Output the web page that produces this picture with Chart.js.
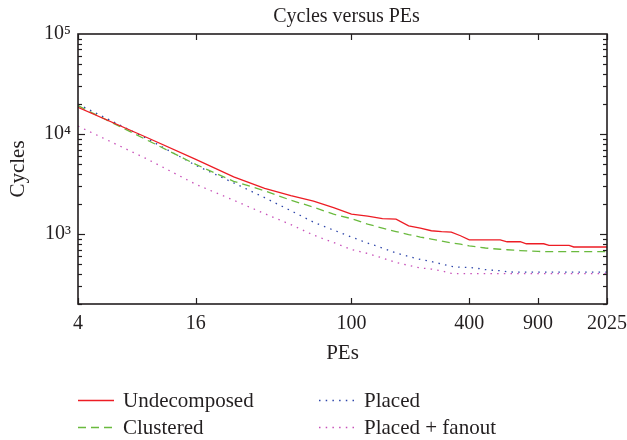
<!DOCTYPE html>
<html>
<head>
<meta charset="utf-8">
<title>Cycles versus PEs</title>
<script src="https://cdn.jsdelivr.net/npm/chart.js@4.4.1/dist/chart.umd.min.js"></script>
<style>
	html, body { margin: 0; padding: 0; background: #fff; }
	#wrap { width: 627px; height: 440px; }
</style>
</head>
<body>
<div id="wrap"><canvas id="cyclesChart" width="627" height="440"></canvas></div>
<script>
// data (log-log, PEs are square grids 2x2 .. 45x45)
const pes = [4, 9, 16, 25, 36, 49, 64, 81, 100, 121, 144, 169, 196, 225, 256, 289, 324, 361, 400, 441,
	484, 529, 576, 625, 676, 729, 784, 841, 900, 961, 1024, 1089, 1156, 1225, 1296, 1369, 1444, 1521,
	1600, 1681, 1764, 1849, 1936, 2025];

const undecomposed = [18500, 9230, 5570, 3730, 2870, 2420, 2130, 1835, 1580, 1510, 1425, 1410, 1210, 1148,
	1080, 1060, 1047, 962, 877, 877, 877, 877, 877, 838, 838, 838, 800, 800, 800, 800, 772, 772, 772, 772,
	772, 743, 743, 743, 743, 743, 743, 743, 743, 743];

const clustered = [19200, 8720, 4970, 3370, 2710, 2180, 1857, 1580, 1426, 1258, 1148, 1059, 989, 934, 891,
	851, 817, 792, 763, 743, 726, 714, 705, 697, 690, 684, 679, 674, 671, 667, 667, 667, 667, 667, 667, 667,
	667, 667, 667, 667, 667, 667, 667, 667];

const placed = [19900, 9020, 4860, 3250, 2310, 1714, 1316, 1096, 934, 813, 726, 647, 597, 557, 532, 502, 475,
	466, 464, 454, 441, 435, 431, 421, 416, 416, 416, 416, 416, 416, 416, 416, 416, 416, 416, 416, 416, 416,
	416, 416, 416, 416, 416, 416];

const placedFanout = [12000, 5640, 3145, 2180, 1600, 1244, 977, 823, 701, 640, 577, 520, 486, 459, 447, 429,
	405, 402, 402, 402, 402, 402, 402, 402, 402, 402, 402, 402, 402, 402, 402, 402, 402, 402, 402, 402, 402,
	402, 402, 402, 402, 402, 402, 402];

const xTickValues = [4, 16, 100, 400, 900, 2025];
const yTickValues = [1000, 10000, 100000];

const TITLE = 'Cycles versus PEs';
const FONT = '"Liberation Serif", "Times New Roman", serif';
const INK = '#231f20';
const SUP = { 2: '\u00b2', 3: '\u00b3', 4: '\u2074', 5: '\u2075' };

const series = [
	{ label: 'Undecomposed', data: undecomposed, color: 'rgb(237,28,36)', dash: [] },
	{ label: 'Clustered', data: clustered, color: 'rgb(106,186,62)', dash: [8, 5] },
	{ label: 'Placed', data: placed, color: 'rgb(46,70,170)', dash: [1.5, 5.2] },
	{ label: 'Placed + fanout', data: placedFanout, color: 'rgb(200,80,185)', dash: [1.5, 5.2] }
];

// frame around the plot plus inward tick marks (major + log minor on y), title over the plot area
const frameTicks = {
	id: 'frameTicks',
	afterDatasetsDraw(chart) {
		const { ctx, chartArea: a, scales: { x, y } } = chart;
		ctx.save();
		ctx.strokeStyle = INK;
		ctx.lineWidth = 1.2;
		const seg = (x1, y1, x2, y2) => { ctx.beginPath(); ctx.moveTo(x1, y1); ctx.lineTo(x2, y2); ctx.stroke(); };

		xTickValues.forEach(v => {
			const px = Math.round(x.getPixelForValue(v)) + 0.5;
			seg(px, a.bottom, px, a.bottom - 6);
			seg(px, a.top, px, a.top + 6);
		});

		for (let dec = 100; dec < 100000; dec *= 10) {
			for (let m = 1; m < 10; m++) {
				const v = dec * m;
				if (v < y.min || v > y.max) continue;
				const py = Math.round(y.getPixelForValue(v)) + 0.5;
				const len = m === 1 ? 7 : 4;
				seg(a.left, py, a.left + len, py);
				seg(a.right, py, a.right - len, py);
			}
		}

		ctx.lineWidth = 1.6;
		ctx.strokeRect(a.left, a.top, a.right - a.left, a.bottom - a.top);

		ctx.fillStyle = INK;
		ctx.font = '20px ' + FONT;
		ctx.textAlign = 'center';
		ctx.textBaseline = 'middle';
		ctx.fillText(TITLE, (a.left + a.right) / 2 + 4, 17);
		ctx.restore();
	}
};

// two-column legend under the x axis title (column-major order like the original)
const bottomLegend = {
	id: 'bottomLegend',
	afterDraw(chart) {
		const { ctx } = chart;
		const colX = [78, 319];
		const rowY = [400.5, 427.5];
		ctx.save();
		chart.data.datasets.forEach((ds, i) => {
			const lx = colX[Math.floor(i / 2)];
			const ly = rowY[i % 2];
			ctx.strokeStyle = ds.borderColor;
			ctx.lineWidth = 1.4;
			ctx.setLineDash(ds.borderDash || []);
			ctx.beginPath();
			ctx.moveTo(lx, ly);
			ctx.lineTo(lx + 36, ly);
			ctx.stroke();
			ctx.setLineDash([]);
			ctx.fillStyle = INK;
			ctx.font = '21px ' + FONT;
			ctx.textBaseline = 'middle';
			ctx.textAlign = 'left';
			ctx.fillText(ds.label, lx + 45, ly + 1);
		});
		ctx.restore();
	}
};

const ctx = document.getElementById('cyclesChart').getContext('2d');

new Chart(ctx, {
	type: 'line',
	data: {
		labels: pes,
		datasets: series.map(s => ({
			label: s.label,
			data: pes.map((p, i) => ({ x: p, y: s.data[i] })),
			borderColor: s.color,
			backgroundColor: s.color,
			borderDash: s.dash,
			borderWidth: 1.3,
			pointRadius: 0,
			tension: 0,
			fill: false
		}))
	},
	options: {
		responsive: false,
		animation: false,
		layout: { padding: { left: 0, right: 20, top: 34, bottom: 70 } },
		plugins: {
			legend: { display: false },
			tooltip: { enabled: false },
			title: { display: false }
		},
		scales: {
			x: {
				type: 'logarithmic',
				min: 4,
				max: 2025,
				grid: { display: false, drawTicks: false },
				border: { display: false },
				afterBuildTicks: (s) => { s.ticks = xTickValues.map(v => ({ value: v })); },
				afterFit: (s) => {
					s.height = 66;
					// let "2025" hang over the right edge like in the original
					s.paddingLeft = 0;
					s.paddingRight = 0;
				},
				ticks: {
					autoSkip: false,
					maxRotation: 0,
					padding: 8,
					color: INK,
					font: { family: FONT, size: 20 },
					callback: (v) => String(v)
				},
				title: {
					display: true,
					text: 'PEs',
					color: INK,
					font: { family: FONT, size: 21 },
					padding: { top: 0, bottom: 4 }
				}
			},
			y: {
				type: 'logarithmic',
				min: 200,
				max: 100000,
				grid: { display: false, drawTicks: false },
				border: { display: false },
				afterBuildTicks: (s) => { s.ticks = yTickValues.map(v => ({ value: v })); },
				afterFit: (s) => { s.width = 78; },
				ticks: {
					autoSkip: false,
					padding: 7,
					color: INK,
					font: { family: FONT, size: 20 },
					callback: (v) => '10' + SUP[Math.round(Math.log10(v))]
				},
				title: {
					display: true,
					text: 'Cycles',
					color: INK,
					font: { family: FONT, size: 21 },
					padding: { top: 6, bottom: 0 }
				}
			}
		}
	},
	plugins: [frameTicks, bottomLegend]
});
</script>
</body>
</html>
